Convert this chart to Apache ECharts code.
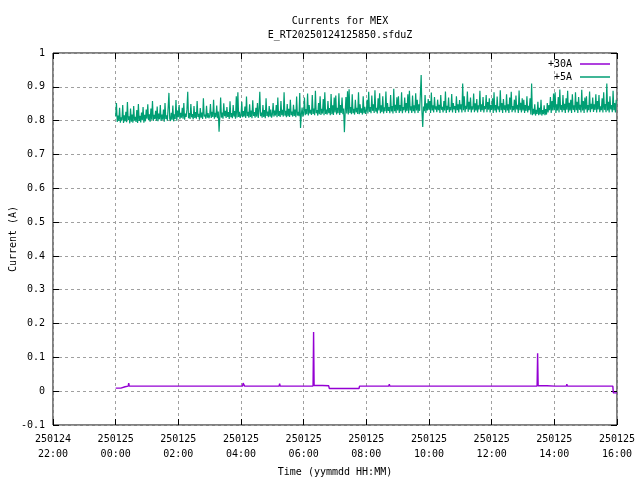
<!DOCTYPE html>
<html>
<head>
<meta charset="utf-8">
<script src="https://cdn.jsdelivr.net/npm/echarts@6/dist/echarts.min.js"></script>
<style>html,body{margin:0;padding:0;background:#fff}#c{width:640px;height:480px}</style>
</head>
<body>
<div id="c"></div>
<script>
// Tick labels (x axis: hours relative to 250125 00:00)
const xTickHours = [-2, 0, 2, 4, 6, 8, 10, 12, 14, 16];
const yTicks = [-0.1, 0, 0.1, 0.2, 0.3, 0.4, 0.5, 0.6, 0.7, 0.8, 0.9, 1];
const seriesNames = ["+30A", "+5A"];

// +5A samples in mA, every 1.5 minutes starting 250125 00:00 (one row per hour)
const greenStartHour = 0;
const greenStepMinutes = 1.5;
const greenMilliAmps = [
812,852,796,815,799,838,794,810,801,846,793,816,798,826,795,855,802,813,792,836,797,818,794,843,800,811,796,831,793,849,799,814,795,824,801,840,794,817,798,833,
806,848,801,819,797,836,803,858,799,817,805,829,800,842,798,821,804,846,799,818,803,833,797,852,805,816,800,839,882,806,799,823,803,845,798,819,805,861,800,830,
810,846,804,823,809,838,806,852,803,821,811,834,885,807,822,805,849,810,819,804,843,808,825,806,858,811,820,803,837,809,824,805,866,812,818,806,844,809,822,807,
814,849,808,826,811,862,806,823,810,845,807,827,767,812,868,809,824,806,851,813,829,808,840,811,825,805,857,810,822,807,846,812,828,806,872,809,884,811,826,808,
815,856,810,828,812,842,808,871,813,826,809,848,811,830,807,860,814,825,809,838,812,852,808,829,885,813,824,809,846,811,831,807,866,814,827,810,843,812,833,809,
818,852,812,830,815,846,810,868,814,828,811,858,816,832,812,884,815,829,810,849,813,835,811,862,816,827,812,847,814,833,810,871,815,826,813,882,778,818,839,812,
822,868,816,834,819,880,815,846,821,832,817,876,820,836,816,888,822,831,815,852,819,872,817,835,821,864,816,884,820,833,818,858,822,837,816,879,819,845,817,868,
824,874,818,838,822,881,817,846,823,868,819,836,766,825,870,821,887,818,893,823,840,819,878,822,835,818,862,824,838,820,884,819,848,823,836,818,872,822,841,820,
828,862,821,885,826,840,822,874,829,848,823,890,827,838,821,866,830,881,822,845,826,872,821,839,828,886,823,852,829,840,822,876,827,843,821,894,828,847,823,869,
830,872,823,846,828,884,822,840,831,868,824,852,829,878,822,888,830,842,823,874,828,845,822,881,830,862,823,848,829,879,935,826,781,842,828,876,823,851,830,864,
832,858,823,883,830,845,824,870,833,842,825,862,831,847,823,876,832,841,824,858,830,886,823,844,832,868,825,840,831,879,824,852,833,843,823,872,831,848,824,861,
833,848,824,910,831,872,825,844,834,886,826,856,832,868,824,842,833,880,825,851,830,864,824,845,833,888,826,848,831,870,824,843,834,876,825,855,832,866,824,846,
832,866,823,884,830,846,824,871,833,842,825,890,831,852,823,864,832,845,824,878,830,848,823,868,832,885,825,843,831,862,824,874,833,847,823,889,831,853,824,866,
830,862,823,846,829,872,824,844,831,866,818,910,816,835,819,848,815,832,820,856,816,838,818,862,815,831,819,845,816,834,818,852,824,846,831,870,823,858,830,880,
831,884,823,848,830,870,824,892,832,846,825,876,831,850,823,866,832,888,824,853,830,862,823,878,832,845,825,884,831,856,823,870,832,847,824,891,830,858,823,868,
833,872,824,846,831,886,825,850,834,868,826,848,832,878,824,858,833,876,825,842,831,866,824,884,832,849,825,910,830,856,824,872,833,846,825,888,831,852,824,862
];

// +30A samples: [time on 250125, current in A]
const purpleSamples = [
["00:00",0.009],["00:10",0.009],["00:12",0.013],["00:18",0.013],["00:20",0.015],
["00:24",0.015],["00:25",0.024],["00:26",0.015],["00:39",0.015],["00:40",0.019],["00:41",0.015],
["00:51",0.015],["00:52",0.018],["00:53",0.015],["01:01",0.015],["01:02",0.019],["01:03",0.015],
["01:19",0.015],["01:20",0.012],["01:21",0.015],["01:39",0.015],["01:40",0.018],["01:41",0.015],
["02:04",0.015],["02:05",0.019],["02:06",0.015],["02:27",0.015],["02:28",0.019],["02:29",0.012],["02:30",0.015],
["02:49",0.015],["02:50",0.018],["02:51",0.015],["03:05",0.015],["03:06",0.019],["03:07",0.015],
["03:24",0.015],["03:25",0.012],["03:26",0.015],["03:39",0.015],["03:40",0.018],["03:41",0.015],
["04:03",0.015],["04:04",0.024],["04:06",0.024],["04:07",0.015],["04:19",0.015],["04:20",0.018],["04:21",0.015],
["04:31",0.015],["04:32",0.019],["04:33",0.015],["04:51",0.015],["04:52",0.018],["04:53",0.015],
["05:01",0.015],["05:02",0.019],["05:03",0.015],["05:13",0.015],["05:14",0.022],["05:15",0.015],
["05:26",0.015],["05:27",0.012],["05:28",0.015],["05:39",0.015],["05:40",0.020],["05:41",0.015],
["05:56",0.015],["05:57",0.018],["05:58",0.015],["06:06",0.015],["06:07",0.019],["06:08",0.015],
["06:18",0.015],["06:19",0.175],["06:20",0.017],["06:36",0.017],["06:37",0.013],["06:38",0.016],
["06:48",0.016],["06:49",0.008],["07:01",0.008],["07:02",0.011],["07:03",0.008],
["07:11",0.008],["07:12",0.004],["07:13",0.008],["07:26",0.008],["07:27",0.011],["07:28",0.008],
["07:36",0.008],["07:37",0.003],["07:38",0.008],["07:46",0.008],["07:47",0.015],
["08:03",0.015],["08:04",0.019],["08:05",0.015],["08:21",0.015],["08:22",0.018],["08:23",0.015],
["08:43",0.015],["08:44",0.021],["08:45",0.015],["09:01",0.015],["09:02",0.019],["09:03",0.015],
["09:16",0.015],["09:17",0.012],["09:18",0.015],["09:31",0.015],["09:32",0.020],["09:33",0.015],
["09:51",0.015],["09:52",0.018],["09:53",0.015],["10:07",0.015],["10:08",0.019],["10:09",0.015],
["10:31",0.015],["10:32",0.019],["10:33",0.015],["10:49",0.015],["10:50",0.018],["10:51",0.015],
["11:06",0.015],["11:07",0.012],["11:08",0.015],["11:21",0.015],["11:22",0.020],["11:23",0.015],
["11:41",0.015],["11:42",0.018],["11:43",0.015],["11:56",0.015],["11:57",0.019],["11:58",0.015],
["12:11",0.015],["12:12",0.019],["12:13",0.015],["12:31",0.015],["12:32",0.018],["12:33",0.015],
["12:49",0.015],["12:50",0.012],["12:51",0.015],["13:06",0.015],["13:07",0.019],["13:08",0.015],
["13:27",0.015],["13:28",0.112],["13:29",0.016],["13:46",0.016],["13:47",0.012],["13:48",0.015],
["14:01",0.015],["14:02",0.019],["14:03",0.015],["14:23",0.015],["14:24",0.021],["14:25",0.015],
["14:41",0.015],["14:42",0.018],["14:43",0.015],["14:56",0.015],["14:57",0.012],["14:58",0.015],
["15:06",0.015],["15:07",0.020],["15:08",0.015],["15:26",0.015],["15:27",0.018],["15:28",0.015],
["15:41",0.015],["15:42",0.019],["15:43",0.015],["15:52",0.015],["15:53",-0.005],["16:00",-0.005]
];

const FONT = "DejaVu Sans Mono";
function toHours(t){ const p = t.split(":"); return (+p[0]) + (+p[1]) / 60; }
const greenData = greenMilliAmps.map((v, i) => [greenStartHour + i * greenStepMinutes / 60, v / 1000]);
const purpleData = purpleSamples.map(s => [toHours(s[0]), s[1]]);

function xLabel(v){
  const day = v < 0 ? "250124" : "250125";
  const h = ((Math.round(v) % 24) + 24) % 24;
  return day + "\n" + (h < 10 ? "0" + h : "" + h) + ":00";
}

const chart = echarts.init(document.getElementById("c"), null, {renderer: "canvas"});
const gridLine = {show: true, lineStyle: {color: "#a0a0a0", type: [3, 3], width: 1}};
const textStyle = {fontFamily: FONT, fontSize: 10, color: "#000"};
const tick = {show: true, inside: true, length: 6, lineStyle: {color: "#000"}};
chart.setOption({
  animation: false,
  backgroundColor: "#fff",
  title: {
    text: "Currents for MEX\nE_RT20250124125850.sfduZ",
    left: 335, top: 9, textAlign: "center",
    textStyle: {fontFamily: FONT, fontSize: 10, fontWeight: "normal", color: "#000", lineHeight: 14}
  },
  legend: {
    data: seriesNames,
    orient: "vertical", right: 30, top: 59, align: "right", padding: 0,
    icon: "rect", itemWidth: 30, itemHeight: 1.5, itemGap: 3,
    textStyle: {fontFamily: FONT, fontSize: 10, color: "#000", padding: [0, 3, 0, 0]}
  },
  grid: {left: 53, right: 23, top: 53, bottom: 55, show: true, borderColor: "#000", borderWidth: 1,
         backgroundColor: "transparent", containLabel: false, outerBoundsMode: "none"},
  xAxis: [{
    type: "value", min: xTickHours[0], max: xTickHours[xTickHours.length - 1], interval: 2,
    name: "Time (yymmdd HH:MM)", nameLocation: "middle", nameGap: 42, nameTextStyle: textStyle,
    nameMoveOverlap: false,
    axisLine: {show: false, onZero: false}, axisTick: tick,
    axisLabel: Object.assign({margin: 7, lineHeight: 15, formatter: xLabel}, textStyle),
    splitLine: gridLine
  }, {
    type: "value", position: "top", min: xTickHours[0], max: xTickHours[xTickHours.length - 1], interval: 2,
    axisLine: {show: false, onZero: false}, axisTick: tick,
    axisLabel: {show: false}, splitLine: {show: false}
  }],
  yAxis: [{
    type: "value", min: yTicks[0], max: yTicks[yTicks.length - 1], interval: 0.1,
    name: "Current (A)", nameLocation: "middle", nameGap: 35, nameRotate: 90, nameTextStyle: textStyle,
    nameMoveOverlap: false,
    axisLine: {show: false, onZero: false}, axisTick: tick,
    axisLabel: Object.assign({margin: 8}, textStyle),
    splitLine: gridLine
  }, {
    type: "value", position: "right", min: yTicks[0], max: yTicks[yTicks.length - 1], interval: 0.1,
    axisLine: {show: false, onZero: false}, axisTick: tick,
    axisLabel: {show: false}, splitLine: {show: false}
  }],
  series: [{
    name: seriesNames[0], type: "line", data: purpleData, showSymbol: false, symbol: "none",
    color: "#9400d3", lineStyle: {width: 1.4, color: "#9400d3"}
  }, {
    name: seriesNames[1], type: "line", data: greenData, showSymbol: false, symbol: "none",
    color: "#009e73", lineStyle: {width: 1.2, color: "#009e73"}
  }]
});
</script>
</body>
</html>
